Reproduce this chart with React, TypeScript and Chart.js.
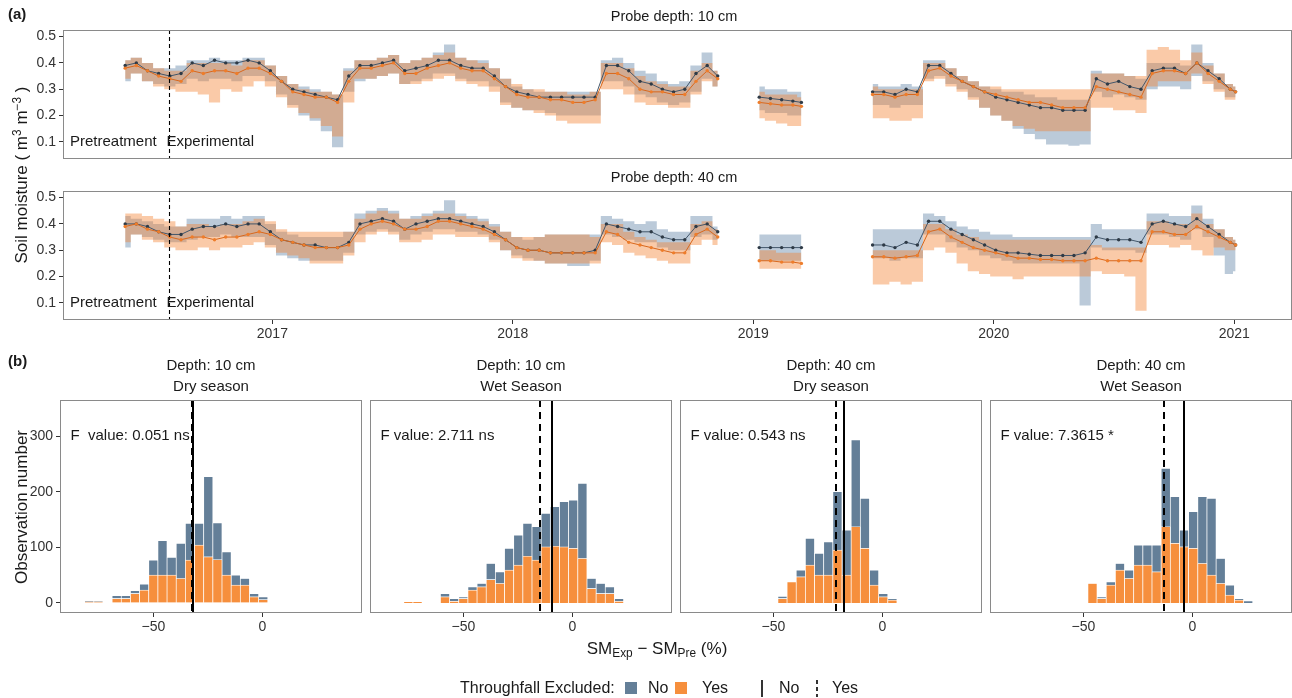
import React, { useEffect, useRef } from "react";
import { Chart, registerables } from "chart.js";

Chart.register(...registerables);

const FONT = '"Liberation Sans", Arial, Helvetica, sans-serif';
Chart.defaults.font.family = FONT;

// ================= (a) soil moisture time series =================
const DATES = [
  "2016-05-22","2016-06-08","2016-06-25","2016-07-12","2016-07-29","2016-08-15","2016-09-01","2016-09-18","2016-10-05","2016-10-22","2016-11-08","2016-11-25","2016-12-12","2016-12-29",
  "2017-01-15","2017-02-01","2017-02-18","2017-03-07","2017-03-24","2017-04-10","2017-04-27","2017-05-14","2017-05-31","2017-06-17","2017-07-04","2017-07-21","2017-08-07","2017-08-24","2017-09-10","2017-09-27","2017-10-14","2017-10-31","2017-11-17","2017-12-04","2017-12-21",
  "2018-01-07","2018-01-24","2018-02-10","2018-02-27","2018-03-16","2018-04-02","2018-04-19","2018-05-06","2018-05-23","2018-06-09","2018-06-26","2018-07-13","2018-07-30","2018-08-16","2018-09-02","2018-09-19","2018-10-06","2018-10-23","2018-11-08",
  "2018-12-10",
  "2019-01-10","2019-01-27","2019-02-13","2019-03-02","2019-03-15",
  "2019-05-10",
  "2019-07-01","2019-07-18","2019-08-04","2019-08-21","2019-09-07","2019-09-24","2019-10-11","2019-10-28","2019-11-14","2019-12-01","2019-12-18",
  "2020-01-04","2020-01-21","2020-02-07","2020-02-24","2020-03-12","2020-03-29","2020-04-15","2020-05-02","2020-05-19","2020-06-05","2020-06-22","2020-07-09","2020-07-26","2020-08-12","2020-08-29","2020-09-15","2020-10-02","2020-10-19","2020-11-05","2020-11-22","2020-12-09","2020-12-26",
  "2021-01-03",
];

// Probe depth 10 cm
const SM10_NO = [
  0.39,0.40,0.37,0.36,0.35,0.36,0.40,0.39,0.41,0.40,0.40,0.41,0.40,0.37,
  0.33,0.30,0.29,0.28,0.27,0.26,0.35,0.39,0.39,0.40,0.41,0.37,0.38,0.39,0.41,0.41,0.39,0.38,0.38,0.35,0.31,
  0.29,0.28,0.27,0.27,0.27,0.27,0.27,0.27,0.39,0.39,0.37,0.33,0.32,0.30,0.29,0.30,0.36,0.39,0.35,
  null,
  0.27,0.265,0.26,0.255,0.25,
  null,
  0.29,0.29,0.28,0.30,0.29,0.39,0.39,0.36,0.33,0.31,0.29,
  0.27,0.26,0.25,0.24,0.23,0.23,0.22,0.22,0.22,0.34,0.32,0.33,0.31,0.30,0.37,0.38,0.38,0.36,0.40,0.37,0.34,0.30,
  0.29,
];
const SM10_YES = [
  0.38,0.39,0.37,0.35,0.34,0.33,0.37,0.36,0.37,0.37,0.36,0.38,0.38,0.36,
  0.33,0.29,0.28,0.27,0.27,0.25,0.33,0.38,0.38,0.39,0.40,0.36,0.36,0.38,0.39,0.40,0.38,0.37,0.37,0.34,0.31,
  0.28,0.27,0.27,0.26,0.26,0.25,0.25,0.26,0.36,0.36,0.34,0.30,0.29,0.29,0.28,0.28,0.33,0.37,0.34,
  null,
  0.25,0.245,0.24,0.24,0.235,
  null,
  0.28,0.28,0.27,0.28,0.28,0.37,0.38,0.35,0.33,0.31,0.29,
  0.28,0.27,0.26,0.25,0.25,0.24,0.23,0.23,0.23,0.31,0.30,0.29,0.28,0.27,0.36,0.37,0.37,0.36,0.40,0.36,0.33,0.30,
  0.29,
];
const SM10_NO_LO = [
  0.33,0.36,0.33,0.32,0.31,0.32,0.34,0.33,0.34,0.34,0.33,0.35,0.35,0.33,
  0.28,0.24,0.20,0.18,0.14,0.08,0.29,0.33,0.34,0.35,0.36,0.32,0.33,0.34,0.36,0.36,0.34,0.33,0.33,0.31,0.25,
  0.23,0.22,0.22,0.21,0.20,0.20,0.20,0.20,0.33,0.33,0.31,0.28,0.27,0.25,0.24,0.25,0.29,0.34,0.31,
  null,
  0.22,0.21,0.21,0.20,0.20,
  null,
  0.24,0.24,0.23,0.24,0.24,0.34,0.35,0.32,0.30,0.27,0.23,
  0.20,0.18,0.15,0.13,0.11,0.09,0.09,0.085,0.09,0.29,0.27,0.28,0.27,0.26,0.30,0.31,0.31,0.30,0.35,0.33,0.30,0.27,
  0.27,
];
const SM10_NO_HI = [
  0.41,0.42,0.40,0.38,0.38,0.39,0.41,0.41,0.42,0.41,0.41,0.42,0.42,0.39,
  0.35,0.32,0.31,0.30,0.29,0.28,0.38,0.41,0.41,0.42,0.43,0.40,0.41,0.42,0.44,0.47,0.42,0.41,0.41,0.38,0.34,
  0.31,0.30,0.29,0.29,0.29,0.29,0.29,0.29,0.41,0.42,0.40,0.37,0.36,0.33,0.32,0.33,0.39,0.44,0.37,
  null,
  0.31,0.30,0.30,0.29,0.29,
  null,
  0.32,0.31,0.31,0.32,0.31,0.41,0.41,0.38,0.35,0.33,0.31,
  0.30,0.29,0.29,0.28,0.27,0.27,0.26,0.26,0.26,0.37,0.36,0.36,0.35,0.34,0.40,0.40,0.40,0.39,0.47,0.40,0.36,0.32,
  0.31,
];
const SM10_YES_LO = [
  0.34,0.36,0.33,0.31,0.30,0.29,0.29,0.28,0.25,0.30,0.29,0.31,0.33,0.31,
  0.27,0.23,0.21,0.19,0.16,0.12,0.25,0.34,0.34,0.35,0.36,0.32,0.32,0.33,0.34,0.35,0.33,0.32,0.31,0.29,0.24,
  0.23,0.22,0.21,0.20,0.18,0.17,0.17,0.17,0.30,0.30,0.28,0.25,0.24,0.24,0.23,0.23,0.28,0.33,0.31,
  null,
  0.19,0.18,0.17,0.16,0.16,
  null,
  0.19,0.19,0.18,0.18,0.19,0.33,0.34,0.31,0.29,0.26,0.23,
  0.20,0.18,0.16,0.15,0.14,0.14,0.14,0.14,0.14,0.23,0.23,0.22,0.22,0.21,0.31,0.33,0.33,0.33,0.36,0.32,0.29,0.26,
  0.26,
];
const SM10_YES_HI = [
  0.41,0.42,0.40,0.38,0.37,0.37,0.40,0.40,0.40,0.40,0.39,0.41,0.41,0.39,
  0.35,0.32,0.30,0.29,0.29,0.28,0.37,0.41,0.41,0.42,0.43,0.40,0.41,0.42,0.43,0.44,0.42,0.41,0.40,0.38,0.34,
  0.32,0.30,0.30,0.29,0.29,0.28,0.28,0.29,0.40,0.40,0.38,0.35,0.33,0.32,0.31,0.31,0.37,0.40,0.37,
  null,
  0.29,0.28,0.28,0.28,0.27,
  null,
  0.31,0.30,0.30,0.30,0.30,0.40,0.40,0.38,0.35,0.33,0.31,
  0.31,0.30,0.30,0.30,0.30,0.30,0.30,0.30,0.30,0.36,0.36,0.36,0.35,0.35,0.45,0.46,0.45,0.41,0.44,0.39,0.36,0.32,
  0.31,
];

// Probe depth 40 cm
const SM40_NO = [
  0.40,0.40,0.39,0.37,0.36,0.36,0.38,0.39,0.39,0.40,0.39,0.40,0.40,0.37,
  0.34,0.33,0.32,0.32,0.31,0.31,0.33,0.40,0.41,0.42,0.41,0.38,0.40,0.41,0.42,0.42,0.41,0.40,0.39,0.37,0.34,
  0.31,0.30,0.30,0.29,0.29,0.29,0.29,0.30,0.40,0.39,0.38,0.37,0.37,0.35,0.34,0.34,0.39,0.40,0.37,
  null,
  0.31,0.31,0.31,0.31,0.31,
  null,
  0.32,0.32,0.31,0.33,0.32,0.41,0.41,0.38,0.36,0.34,0.32,
  0.30,0.29,0.29,0.285,0.28,0.28,0.28,0.28,0.29,0.35,0.34,0.34,0.34,0.33,0.40,0.41,0.40,0.39,0.42,0.39,0.36,0.33,
  0.32,
];
const SM40_YES = [
  0.39,0.40,0.38,0.37,0.35,0.34,0.35,0.35,0.34,0.35,0.35,0.36,0.37,0.36,
  0.34,0.33,0.32,0.31,0.31,0.31,0.32,0.38,0.40,0.41,0.40,0.38,0.38,0.39,0.41,0.41,0.40,0.39,0.38,0.36,0.34,
  0.31,0.30,0.30,0.29,0.29,0.29,0.29,0.29,0.37,0.36,0.33,0.32,0.31,0.30,0.29,0.29,0.36,0.38,0.35,
  null,
  0.26,0.26,0.255,0.255,0.25,
  null,
  0.275,0.275,0.27,0.275,0.28,0.37,0.38,0.35,0.33,0.31,0.30,
  0.29,0.28,0.27,0.27,0.265,0.265,0.26,0.26,0.26,0.27,0.26,0.26,0.26,0.26,0.37,0.37,0.36,0.36,0.39,0.37,0.35,0.33,
  0.32,
];
const SM40_NO_LO = [
  0.31,0.36,0.35,0.34,0.33,0.33,0.34,0.35,0.35,0.36,0.35,0.35,0.35,0.32,
  0.28,0.27,0.26,0.26,0.26,0.26,0.29,0.36,0.37,0.38,0.37,0.34,0.36,0.37,0.38,0.38,0.37,0.37,0.36,0.34,0.30,
  0.28,0.27,0.26,0.25,0.25,0.24,0.24,0.26,0.36,0.35,0.34,0.33,0.33,0.31,0.30,0.30,0.35,0.36,0.34,
  null,
  0.26,0.26,0.26,0.26,0.26,
  null,
  0.27,0.27,0.26,0.27,0.27,0.36,0.36,0.33,0.31,0.30,0.28,
  0.27,0.26,0.25,0.25,0.25,0.25,0.25,0.25,0.09,0.31,0.30,0.30,0.30,0.29,0.36,0.36,0.35,0.34,0.38,0.35,0.28,0.21,
  0.22,
];
const SM40_NO_HI = [
  0.43,0.42,0.41,0.40,0.39,0.39,0.42,0.42,0.42,0.43,0.42,0.43,0.43,0.40,
  0.37,0.36,0.35,0.35,0.35,0.35,0.37,0.44,0.45,0.46,0.45,0.42,0.43,0.44,0.45,0.49,0.44,0.43,0.42,0.40,0.37,
  0.35,0.34,0.35,0.36,0.36,0.36,0.36,0.36,0.43,0.42,0.41,0.40,0.41,0.38,0.37,0.37,0.43,0.43,0.39,
  null,
  0.36,0.36,0.36,0.36,0.36,
  null,
  0.38,0.38,0.38,0.38,0.38,0.44,0.43,0.41,0.39,0.38,0.37,
  0.36,0.36,0.35,0.35,0.35,0.35,0.35,0.35,0.35,0.40,0.38,0.38,0.38,0.38,0.44,0.44,0.43,0.43,0.47,0.42,0.38,0.35,
  0.34,
];
const SM40_YES_LO = [
  0.33,0.36,0.34,0.33,0.31,0.30,0.30,0.31,0.30,0.31,0.31,0.32,0.33,0.31,
  0.29,0.28,0.27,0.25,0.25,0.25,0.28,0.33,0.36,0.37,0.36,0.33,0.33,0.34,0.36,0.36,0.35,0.35,0.35,0.33,0.30,
  0.27,0.26,0.26,0.25,0.25,0.25,0.25,0.25,0.33,0.32,0.29,0.28,0.27,0.26,0.25,0.25,0.32,0.34,0.32,
  null,
  0.23,0.23,0.23,0.23,0.23,
  null,
  0.17,0.17,0.18,0.17,0.18,0.30,0.31,0.29,0.25,0.22,0.21,
  0.20,0.20,0.19,0.20,0.20,0.20,0.20,0.20,0.20,0.22,0.21,0.21,0.20,0.07,0.32,0.32,0.31,0.32,0.30,0.28,0.31,0.30,
  0.30,
];
const SM40_YES_HI = [
  0.44,0.44,0.43,0.42,0.41,0.39,0.40,0.40,0.39,0.40,0.40,0.41,0.42,0.41,
  0.38,0.37,0.37,0.37,0.37,0.37,0.37,0.42,0.44,0.45,0.44,0.42,0.42,0.43,0.44,0.44,0.43,0.42,0.41,0.39,0.37,
  0.35,0.35,0.35,0.36,0.36,0.36,0.36,0.35,0.40,0.40,0.37,0.35,0.34,0.33,0.33,0.33,0.40,0.41,0.38,
  null,
  0.30,0.30,0.29,0.29,0.29,
  null,
  0.30,0.30,0.30,0.30,0.30,0.40,0.40,0.38,0.36,0.35,0.34,
  0.34,0.34,0.34,0.34,0.34,0.34,0.34,0.34,0.34,0.32,0.31,0.31,0.31,0.31,0.41,0.41,0.40,0.40,0.44,0.40,0.38,0.35,
  0.34,
];

const TREATMENT_START = "2016-07-28";
const YEAR_TICKS = [2017, 2018, 2019, 2020, 2021];
const SM_TICKS = [0.1, 0.2, 0.3, 0.4, 0.5];
const PROBE_TITLES = ["Probe depth: 10 cm", "Probe depth: 40 cm"];
const PHASE_LABELS = ["Pretreatment", "Experimental"];
const PHASE_LABEL_Y = 0.1;

// ================= (b) histograms =================
const BIN_CENTERS = [-79.4,-75.2,-71.0,-66.8,-62.6,-58.4,-54.2,-50.0,-45.8,-41.6,-37.4,-33.2,-29.0,-24.8,-20.6,-16.4,-12.2,-8.0,-3.8,0.4,4.6,8.8,13.0,17.2,21.4,25.6];
const HIST_DEPTHS = ["Depth: 10 cm", "Depth: 10 cm", "Depth: 40 cm", "Depth: 40 cm"];
const HIST_SEASONS = ["Dry season", "Wet Season", "Dry season", "Wet Season"];
const F_LABELS = ["F  value: 0.051 ns", "F value: 2.711 ns", "F value: 0.543 ns", "F value: 7.3615 *"];

const YES_D10_DRY = [2,2,0,8,8,17,23,50,50,50,44,77,104,83,78,50,32,32,11,6,0,0,0,0,0,0];
const NO_D10_DRY  = [2,1,0,5,5,5,11,27,62,32,63,66,39,144,66,42,18,12,6,5,0,0,0,0,0,0];
const YES_D10_WET = [0,2,2,0,0,11,3,8,23,29,42,35,59,68,84,77,101,102,101,98,80,26,17,17,3,0];
const NO_D10_WET  = [0,0,0,0,0,6,5,3,6,6,29,21,39,54,59,60,60,71,81,87,135,18,18,12,5,0];
const YES_D40_DRY = [0,0,0,0,0,0,0,0,8,38,47,68,50,50,95,50,137,98,32,11,5,0,0,0,0,0];
const NO_D40_DRY  = [0,0,0,0,0,0,0,0,4,0,12,48,39,60,105,81,156,90,27,6,3,0,0,0,0,0];
const YES_D40_WET = [0,0,0,0,0,0,0,0,35,8,32,59,44,68,68,56,137,107,101,98,71,50,35,14,5,0];
const NO_D40_WET  = [0,0,0,0,0,0,0,0,0,3,6,12,15,36,36,48,105,84,30,66,120,138,45,18,3,4];

const MEAN_NO = [-31.8, -9.3, -17.6, -3.8];
const MEAN_YES = [-32.2, -14.8, -21.2, -13.0];
const F_POS_X = -88;
const F_POS_Y = 300;
const COUNT_TICKS = [0, 100, 200, 300];
const DIFF_TICKS = [-50, 0];

// ================= layout & style =================
const TS_LEFT = 63;
const TS_CANVAS_W = 1296;
const X_MIN = 2016.1295;
const X_MAX = 2021.24;
const SM_MIN = 0.035;
const SM_MAX = 0.525;
const STRIP_X = 674;

const HIST_LEFTS = [60, 370, 680, 990];
const HIST_W = 302;
const HIST_TOP = 400;
const HIST_BOTTOM = 613;
const HIST_CANVAS_TOP = 345;
const DIFF_MIN = -92.8;
const DIFF_MAX = 45.7;
const COUNT_MIN = -18;
const COUNT_MAX = 364.7;

const NO_FILL = "#647f98";
const YES_FILL = "#f68f3d";
const NO_RIBBON = "rgba(92,128,165,0.42)";
const YES_RIBBON = "rgba(242,128,48,0.42)";
const NO_LINE = "#42566a";
const NO_POINT = "#2e3a46";
const YES_LINE = "#d8671c";
const YES_POINT = "#ee7d2b";
const BORDER = "#8a8a8a";
const TICK = "#333333";
const TEXT = "#1a1a1a";

function toYear(d: string): number {
  const [y, m, day] = d.split("-").map(Number);
  const start = Date.UTC(y, 0, 1);
  const end = Date.UTC(y + 1, 0, 1);
  return y + (Date.UTC(y, m - 1, day) - start) / (end - start);
}

function zeroPad(s: any) {
  s.paddingTop = 0;
  s.paddingBottom = 0;
  s.paddingLeft = 0;
  s.paddingRight = 0;
}

const seriesDecor = {
  id: "seriesDecor",
  afterDatasetsDraw(chart: any) {
    const o = chart.options.plugins.seriesDecor;
    const { ctx, chartArea: a, scales } = chart;
    const xl = Math.round(scales.x.getPixelForValue(toYear(TREATMENT_START))) + 0.5;
    ctx.save();
    ctx.strokeStyle = "#000";
    ctx.lineWidth = 1.1;
    ctx.setLineDash([4, 3]);
    ctx.beginPath();
    ctx.moveTo(xl, a.top);
    ctx.lineTo(xl, a.bottom);
    ctx.stroke();
    ctx.setLineDash([]);
    ctx.strokeStyle = BORDER;
    ctx.lineWidth = 1;
    ctx.strokeRect(a.left + 0.5, a.top + 0.5, a.right - a.left - 1, a.bottom - a.top - 1);
    const yl = scales.y.getPixelForValue(PHASE_LABEL_Y);
    ctx.fillStyle = TEXT;
    ctx.font = `15px ${FONT}`;
    ctx.textBaseline = "middle";
    ctx.textAlign = "left";
    ctx.fillText(PHASE_LABELS[0], a.left + 7, yl);
    ctx.fillText(PHASE_LABELS[1], xl - 3, yl);
    ctx.textAlign = "center";
    ctx.font = `14.5px ${FONT}`;
    ctx.fillText(o.title, STRIP_X, a.top - 13);
    ctx.restore();
  },
};

const histDecor = {
  id: "histDecor",
  afterDatasetsDraw(chart: any) {
    const k = chart.options.plugins.histDecor.k;
    const { ctx, chartArea: a, scales } = chart;
    ctx.save();
    const xs = Math.round(scales.x.getPixelForValue(MEAN_NO[k]));
    const xd = Math.round(scales.x.getPixelForValue(MEAN_YES[k]));
    ctx.strokeStyle = "#000";
    ctx.lineWidth = 2;
    ctx.setLineDash([7, 5]);
    ctx.beginPath();
    ctx.moveTo(xd, a.top);
    ctx.lineTo(xd, a.bottom);
    ctx.stroke();
    ctx.setLineDash([]);
    ctx.beginPath();
    ctx.moveTo(xs, a.top);
    ctx.lineTo(xs, a.bottom);
    ctx.stroke();
    ctx.strokeStyle = BORDER;
    ctx.lineWidth = 1;
    ctx.strokeRect(a.left + 0.5, a.top + 0.5, a.right - a.left - 1, a.bottom - a.top - 1);
    ctx.fillStyle = TEXT;
    ctx.font = `15px ${FONT}`;
    ctx.textBaseline = "middle";
    ctx.textAlign = "left";
    ctx.fillText(F_LABELS[k], scales.x.getPixelForValue(F_POS_X), scales.y.getPixelForValue(F_POS_Y));
    const cx = (a.left + a.right) / 2;
    ctx.textAlign = "center";
    ctx.fillText(HIST_DEPTHS[k], cx, a.top - 34);
    ctx.fillText(HIST_SEASONS[k], cx, a.top - 13);
    ctx.restore();
  },
};

type SeriesProps = {
  top: number;
  height: number;
  padTop: number;
  xAxis: boolean;
  title: string;
  no: (number | null)[];
  yes: (number | null)[];
  noLo: (number | null)[];
  noHi: (number | null)[];
  yesLo: (number | null)[];
  yesHi: (number | null)[];
};

function SeriesPanel(p: SeriesProps) {
  const ref = useRef<HTMLCanvasElement | null>(null);
  useEffect(() => {
    if (!ref.current) return;
    const xs = DATES.map(toYear);
    const pts = (arr: (number | null)[]) => xs.map((x, i) => ({ x, y: arr[i] }));
    const ribbon: any = { borderWidth: 0, borderColor: "rgba(0,0,0,0)", pointRadius: 0, stepped: "middle" };
    const chart = new Chart(ref.current, {
      type: "line",
      data: {
        datasets: [
          { label: "No", data: pts(p.no), borderColor: NO_LINE, borderWidth: 1, pointRadius: 1.7, pointBackgroundColor: NO_POINT, pointBorderWidth: 0, fill: false, order: 1 },
          { label: "Yes", data: pts(p.yes), borderColor: YES_LINE, borderWidth: 1, pointRadius: 1.7, pointBackgroundColor: YES_POINT, pointBorderWidth: 0, fill: false, order: 0 },
          { label: "No lo", data: pts(p.noLo), ...ribbon, fill: false, order: 3 },
          { label: "No hi", data: pts(p.noHi), ...ribbon, fill: "-1", backgroundColor: NO_RIBBON, order: 3 },
          { label: "Yes lo", data: pts(p.yesLo), ...ribbon, fill: false, order: 2 },
          { label: "Yes hi", data: pts(p.yesHi), ...ribbon, fill: "-1", backgroundColor: YES_RIBBON, order: 2 },
        ] as any,
      },
      options: {
        responsive: false,
        animation: false,
        devicePixelRatio: 1,
        layout: { padding: { top: p.padTop, right: 0, bottom: p.xAxis ? 0 : 4, left: 0 } },
        scales: {
          x: {
            type: "linear",
            min: X_MIN,
            max: X_MAX,
            display: p.xAxis,
            afterBuildTicks: (s: any) => { s.ticks = YEAR_TICKS.map((v) => ({ value: v })); },
            afterFit: (s: any) => { s.height = p.xAxis ? 26 : 0; zeroPad(s); },
            grid: { display: true, drawOnChartArea: false, drawTicks: true, tickLength: 4, color: TICK, lineWidth: 1 },
            border: { display: false },
            ticks: { color: TICK, font: { size: 14 }, padding: 2, maxRotation: 0, autoSkip: false, callback: (v: any) => String(v) },
          },
          y: {
            type: "linear",
            min: SM_MIN,
            max: SM_MAX,
            afterBuildTicks: (s: any) => { s.ticks = SM_TICKS.map((v) => ({ value: v })); },
            afterFit: (s: any) => { s.width = TS_LEFT; zeroPad(s); },
            grid: { display: true, drawOnChartArea: false, drawTicks: true, tickLength: 4, color: TICK, lineWidth: 1 },
            border: { display: false },
            ticks: { color: TICK, font: { size: 14 }, padding: 3, callback: (v: any) => Number(v).toFixed(1) },
          },
        },
        plugins: {
          legend: { display: false },
          tooltip: { enabled: false },
          seriesDecor: { title: p.title },
        } as any,
      },
      plugins: [seriesDecor],
    });
    return () => chart.destroy();
  }, []);
  return (
    <canvas
      ref={ref}
      width={TS_CANVAS_W}
      height={p.height}
      style={{ position: "absolute", left: 0, top: p.top, width: TS_CANVAS_W, height: p.height }}
    />
  );
}

const HIST_YES = [YES_D10_DRY, YES_D10_WET, YES_D40_DRY, YES_D40_WET];
const HIST_NO = [NO_D10_DRY, NO_D10_WET, NO_D40_DRY, NO_D40_WET];

function HistPanel({ k }: { k: number }) {
  const ref = useRef<HTMLCanvasElement | null>(null);
  const L = HIST_LEFTS[k];
  const canvasLeft = k === 0 ? 0 : L - 6;
  const padLeft = k === 0 ? 0 : 6;
  const cw = L - canvasLeft + HIST_W + 6;
  const ch = HIST_BOTTOM - HIST_CANVAS_TOP + 30;
  useEffect(() => {
    if (!ref.current) return;
    const bar = { borderColor: "#ffffff", borderWidth: 0.7, barPercentage: 1, categoryPercentage: 1 };
    const chart = new Chart(ref.current, {
      type: "bar",
      data: {
        datasets: [
          { label: "Yes", data: BIN_CENTERS.map((x, i) => ({ x, y: HIST_YES[k][i] })), backgroundColor: YES_FILL, ...bar },
          { label: "No", data: BIN_CENTERS.map((x, i) => ({ x, y: HIST_NO[k][i] })), backgroundColor: NO_FILL, ...bar },
        ] as any,
      },
      options: {
        responsive: false,
        animation: false,
        devicePixelRatio: 1,
        layout: { padding: { top: HIST_TOP - HIST_CANVAS_TOP, right: 6, bottom: 0, left: padLeft } },
        scales: {
          x: {
            type: "linear",
            stacked: true,
            offset: false,
            min: DIFF_MIN,
            max: DIFF_MAX,
            afterBuildTicks: (s: any) => { s.ticks = DIFF_TICKS.map((v) => ({ value: v })); },
            afterFit: (s: any) => { s.height = 30; zeroPad(s); },
            grid: { display: true, offset: false, drawOnChartArea: false, drawTicks: true, tickLength: 4, color: TICK, lineWidth: 1 },
            border: { display: false },
            ticks: { color: TICK, font: { size: 14 }, padding: 2, maxRotation: 0, autoSkip: false, callback: (v: any) => (Number(v) < 0 ? "\u2212" + Math.abs(Number(v)) : String(v)) },
          },
          y: {
            type: "linear",
            stacked: true,
            display: k === 0,
            min: COUNT_MIN,
            max: COUNT_MAX,
            afterBuildTicks: (s: any) => { s.ticks = COUNT_TICKS.map((v) => ({ value: v })); },
            afterFit: (s: any) => { s.width = k === 0 ? HIST_LEFTS[0] : 0; zeroPad(s); },
            grid: { display: true, drawOnChartArea: false, drawTicks: true, tickLength: 4, color: TICK, lineWidth: 1 },
            border: { display: false },
            ticks: { color: TICK, font: { size: 14 }, padding: 3, callback: (v: any) => String(v) },
          },
        },
        plugins: {
          legend: { display: false },
          tooltip: { enabled: false },
          histDecor: { k },
        } as any,
      },
      plugins: [histDecor],
    });
    return () => chart.destroy();
  }, []);
  return (
    <canvas
      ref={ref}
      width={cw}
      height={ch}
      style={{ position: "absolute", left: canvasLeft, top: HIST_CANVAS_TOP, width: cw, height: ch }}
    />
  );
}

function Txt(props: { x: number; y: number; size: number; bold?: boolean; rotate?: boolean; left?: boolean; children: any }) {
  const tx = props.left ? "0" : "-50%";
  return (
    <div
      style={{
        position: "absolute",
        left: props.x,
        top: props.y,
        fontSize: props.size,
        fontWeight: props.bold ? 700 : 400,
        lineHeight: 1,
        whiteSpace: "nowrap",
        color: TEXT,
        transform: `translate(${tx}, -50%)${props.rotate ? " rotate(-90deg)" : ""}`,
      }}
    >
      {props.children}
    </div>
  );
}

export default function App() {
  const sup = { fontSize: "0.7em", verticalAlign: "0.45em" } as const;
  const sub = { fontSize: "0.7em", verticalAlign: "-0.3em" } as const;
  return (
    <div
      style={{
        position: "absolute",
        left: 0,
        top: 0,
        width: 1292,
        height: 698,
        overflow: "hidden",
        background: "#ffffff",
        fontFamily: FONT,
      }}
    >
      <SeriesPanel top={0} height={163} padTop={30} xAxis={false} title={PROBE_TITLES[0]}
        no={SM10_NO} yes={SM10_YES} noLo={SM10_NO_LO} noHi={SM10_NO_HI} yesLo={SM10_YES_LO} yesHi={SM10_YES_HI} />
      <SeriesPanel top={160} height={186} padTop={31} xAxis={true} title={PROBE_TITLES[1]}
        no={SM40_NO} yes={SM40_YES} noLo={SM40_NO_LO} noHi={SM40_NO_HI} yesLo={SM40_YES_LO} yesHi={SM40_YES_HI} />
      <HistPanel k={0} />
      <HistPanel k={1} />
      <HistPanel k={2} />
      <HistPanel k={3} />

      <Txt x={8} y={13} size={15} bold left>(a)</Txt>
      <Txt x={8} y={360} size={15} bold left>(b)</Txt>
      <Txt x={21} y={175} size={17} rotate>
        Soil moisture ( m<span style={sup}>3</span> m<span style={sup}>{"\u22123"}</span> )
      </Txt>
      <Txt x={21} y={507} size={17} rotate>Observation number</Txt>
      <Txt x={657} y={650} size={17}>
        SM<span style={sub}>Exp</span> {"\u2212"} SM<span style={sub}>Pre</span> (%)
      </Txt>

      <Txt x={460} y={688} size={16} left>Throughfall Excluded:</Txt>
      <div style={{ position: "absolute", left: 625, top: 682, width: 12, height: 12, background: NO_FILL }} />
      <Txt x={648} y={688} size={16} left>No</Txt>
      <div style={{ position: "absolute", left: 675, top: 682, width: 12, height: 12, background: YES_FILL }} />
      <Txt x={702} y={688} size={16} left>Yes</Txt>
      <svg style={{ position: "absolute", left: 755, top: 678 }} width={70} height={20}>
        <line x1={7} y1={2} x2={7} y2={19} stroke="#000" strokeWidth={1.6} />
        <line x1={62} y1={2} x2={62} y2={19} stroke="#000" strokeWidth={1.6} strokeDasharray="4 3" />
      </svg>
      <Txt x={779} y={688} size={16} left>No</Txt>
      <Txt x={832} y={688} size={16} left>Yes</Txt>
    </div>
  );
}
